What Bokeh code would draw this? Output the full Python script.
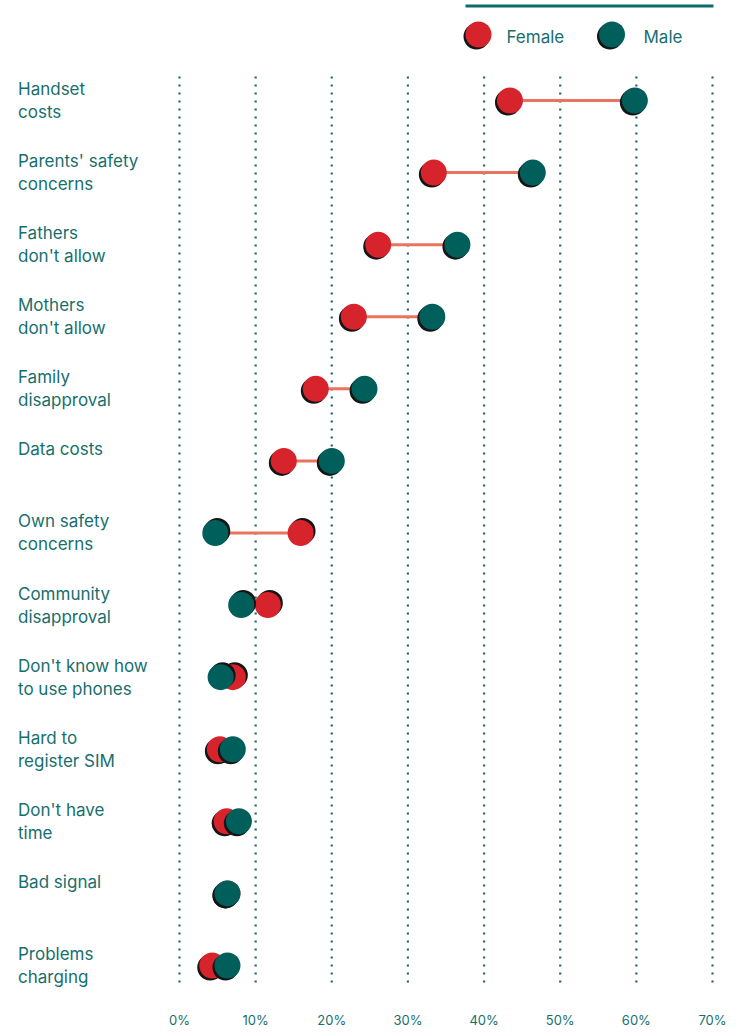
from bokeh.plotting import figure
from bokeh.models import Range1d, FixedTicker
from bokeh.core.properties import value
from bokeh.embed import file_html
from bokeh.resources import INLINE

# ---------------- data ----------------
categories = [
    "Handset\ncosts",
    "Parents' safety\nconcerns",
    "Fathers\ndon't allow",
    "Mothers\ndon't allow",
    "Family\ndisapproval",
    "Data costs",
    "Own safety\nconcerns",
    "Community\ndisapproval",
    "Don't know how\nto use phones",
    "Hard to\nregister SIM",
    "Don't have\ntime",
    "Bad signal",
    "Problems\ncharging",
]
female = [43.4, 33.4, 26.1, 22.9, 17.9, 13.7, 15.9, 11.6, 7.0, 5.3, 6.2, 6.3, 4.3]
male = [59.8, 46.4, 36.5, 33.2, 24.3, 20.0, 4.7, 8.1, 5.4, 7.0, 7.8, 6.3, 6.3]
tick_values = [0, 10, 20, 30, 40, 50, 60, 70]
tick_labels = ["0%", "10%", "20%", "30%", "40%", "50%", "60%", "70%"]
legend_names = ["Female", "Male"]

# ---------------- styles ----------------
FONT = "Inter"
RED = "#d7232b"
GREEN = "#005e5b"
TEXT = "#176f6d"
LINE = "#e8735f"
GRID = "#1b6664"
SHADOW = "#151515"

FRAME_W = 730
FRAME_H = 994
X0_PX = 179.0
PX_PER_X = (712.0 - 179.0) / 70.0
ROW0_PX = 100.0
ROW_STEP = 72.08


def xd(px):
    return (px - X0_PX) / PX_PER_X


def yd(py):
    return (py - ROW0_PX) / ROW_STEP


rows = list(range(len(categories)))

p = figure(
    frame_width=FRAME_W,
    frame_height=FRAME_H,
    x_range=Range1d(xd(0), xd(FRAME_W)),
    y_range=Range1d(yd(FRAME_H), yd(0)),
    output_backend="svg",
    toolbar_location=None,
    y_axis_location=None,
    min_border=0,
    outline_line_color=None,
    background_fill_color="white",
    border_fill_color="white",
)
p.xgrid.visible = False
p.ygrid.visible = False

# x axis (tick labels only)
ax = p.xaxis[0]
ax.ticker = FixedTicker(ticks=tick_values)
ax.major_label_overrides = {v: l for v, l in zip(tick_values, tick_labels)}
ax.axis_line_color = None
ax.major_tick_line_color = None
ax.minor_tick_line_color = None
ax.major_tick_out = 0
ax.major_tick_in = 0
ax.major_label_standoff = 17
ax.major_label_text_font = FONT
ax.major_label_text_font_size = "13px"
ax.major_label_text_color = TEXT

# dotted vertical grid lines
p.segment(x0=tick_values, x1=tick_values,
          y0=[yd(76)] * len(tick_values), y1=[yd(986)] * len(tick_values),
          line_color=GRID, line_width=2.2, line_dash="2 6")

# connecting lines
p.segment(x0=female, x1=male, y0=rows, y1=rows, line_color=LINE, line_width=3)

# shadows: lower-left when female <= male, upper-right otherwise
dx = [(-2.0 if f <= m else 2.0) / PX_PER_X for f, m in zip(female, male)]
dy = [(2.0 if f <= m else -2.0) / ROW_STEP for f, m in zip(female, male)]

SIZE = 26
p.scatter(x=[f + a for f, a in zip(female, dx)], y=[r + b for r, b in zip(rows, dy)],
          size=SIZE, fill_color=SHADOW, line_color=None)
p.scatter(x=female, y=rows, size=SIZE, fill_color=RED, line_color=None)
p.scatter(x=[m + a for m, a in zip(male, dx)], y=[r + b for r, b in zip(rows, dy)],
          size=SIZE, fill_color=SHADOW, line_color=None)
p.scatter(x=male, y=rows, size=SIZE, fill_color=GREEN, line_color=None)

# category labels
line1 = [c.split("\n")[0] for c in categories]
line2 = [c.split("\n")[1] if "\n" in c else "" for c in categories]
lab_x = xd(17.5)
p.text(x=[lab_x] * len(rows), y=[r - 11.5 / ROW_STEP for r in rows], text=line1,
       text_font=value(FONT), text_font_size="17px", text_color=TEXT,
       text_baseline="alphabetic", text_align="left")
p.text(x=[lab_x] * len(rows), y=[r + 11.5 / ROW_STEP for r in rows], text=line2,
       text_font=value(FONT), text_font_size="17px", text_color=TEXT,
       text_baseline="alphabetic", text_align="left")

# legend
p.segment(x0=[xd(465)], x1=[xd(713)], y0=[yd(5.5)], y1=[yd(5.5)],
          line_color="#0d6b69", line_width=3)
leg_cx = [xd(478), xd(611.5)]
leg_cy = [yd(34), yd(34)]
p.scatter(x=[v - 2.0 / PX_PER_X for v in leg_cx], y=[v + 2.0 / ROW_STEP for v in leg_cy],
          size=SIZE, fill_color=SHADOW, line_color=None)
p.scatter(x=leg_cx, y=leg_cy, size=SIZE, fill_color=[RED, GREEN], line_color=None)
p.text(x=[xd(506), xd(643)], y=[yd(36), yd(36)], text=legend_names,
       text_font=value(FONT), text_font_size="17px", text_color=TEXT,
       text_baseline="middle", text_align="left")

open("out.html", "w").write(file_html(p, INLINE))
